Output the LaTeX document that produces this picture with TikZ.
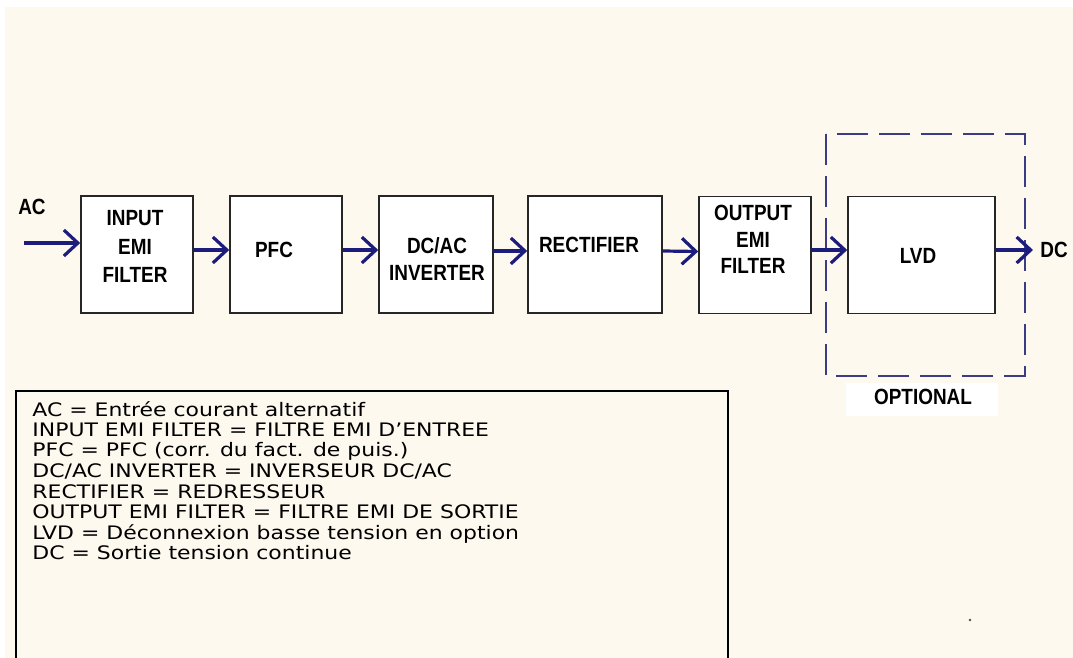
\documentclass[tikz,border=0pt]{standalone}
\usepackage{fontspec}
\setmainfont{Liberation Sans}
\newfontfamily\boxfont[FakeStretch=0.86]{Liberation Sans}
\newfontfamily\legfont[FakeStretch=1.18]{DejaVu Sans}
\usetikzlibrary{arrows.meta}
\definecolor{cream}{HTML}{FDF9EF}
\definecolor{navy}{HTML}{1C1C7C}
\definecolor{dashblue}{HTML}{3C3C84}
\tikzset{
  blk/.style={draw=black!85, line width=0.8pt, fill=white, inner sep=0pt,
    minimum height=58.5pt},
  lbl/.style={inner sep=0pt, align=center, font=\boxfont\bfseries\fontsize{11pt}{14.25pt}\selectfont},
  flow/.style={navy, line width=1.6pt, -{Straight Barb[length=7pt, width=13pt, line width=1.6pt]}},
  optbox/.style={dashblue, line width=1pt, dash pattern=on 15.5pt off 5.5pt},
  legtxt/.style={inner sep=0pt, anchor=base west, font=\legfont\fontsize{9.3pt}{10pt}\selectfont}
}
\begin{document}
\begin{tikzpicture}[x=0.5pt, y=-0.5pt]
  % fond
  \useasboundingbox (0,0) rectangle (1073,658);
  \fill[white] (0,0) rectangle (1073,658);
  \fill[cream] (5,7) rectangle (1073,658);
  % blocs
  \node[blk, minimum width=56pt] (inemi) at (137,254.5) {};
  \node[blk, minimum width=56pt] (pfc) at (286,254.5) {};
  \node[blk, minimum width=57pt] (inv) at (436,254.5) {};
  \node[blk, minimum width=67pt] (rect) at (595,254.5) {};
  \node[blk, minimum width=56pt] (outemi) at (755,255) {};
  \node[blk, minimum width=73.5pt] (lvd) at (921.5,255) {};
  % textes des blocs
  \node[lbl] (inemitxt) at (135,246.5) {INPUT\\EMI\\FILTER};
  \node[lbl] (pfctxt) at (274,250) {PFC};
  \node[lbl, font=\boxfont\bfseries\fontsize{11pt}{13.5pt}\selectfont] (invtxt) at (437,259.5) {DC/AC\\INVERTER};
  \node[lbl] (recttxt) at (589,245) {RECTIFIER};
  \node[lbl, font=\boxfont\bfseries\fontsize{11pt}{13.25pt}\selectfont] (outemitxt) at (753,239.5) {OUTPUT\\EMI\\FILTER};
  \node[lbl] (lvdtxt) at (918,256) {LVD};
  % zone en option
  \draw[optbox] (826,134) rectangle (1025,376);
  \fill[white] (846,383) rectangle (998,416);
  \node[lbl] (opt) at (923,397) {OPTIONAL};
  % entree / sortie
  \node[lbl] (ac) at (32,207) {AC};
  \node[lbl] (dc) at (1054,250) {DC};
  \coordinate (acin) at (24,243);
  \coordinate (dcout) at (1033,250);
  % fleches
  \draw[flow] (acin) -- (acin -| inemi.west);
  \draw[flow] ([yshift=2.25pt]inemi.east) -- ([yshift=2.25pt]pfc.west);
  \draw[flow] ([yshift=2.25pt]pfc.east) -- ([yshift=2.25pt]inv.west);
  \draw[flow] ([yshift=1.75pt]inv.east) -- ([yshift=1.75pt]rect.west);
  \draw[flow] ([yshift=1.75pt]rect.east) -- ([yshift=1.75pt]outemi.west);
  \draw[flow] ([yshift=2.5pt]outemi.east) -- ([yshift=2.5pt]lvd.west);
  \draw[flow] ([yshift=2.5pt]lvd.east) -- (dcout);
  % legende
  \draw[line width=1pt] (16,391) rectangle (728,662);
  \foreach \txt [count=\i] in {AC = Entrée courant alternatif,
      INPUT EMI FILTER = FILTRE EMI D’ENTREE,
      PFC = PFC (corr. du fact. de puis.),
      DC/AC INVERTER = INVERSEUR DC/AC,
      RECTIFIER = REDRESSEUR,
      OUTPUT EMI FILTER = FILTRE EMI DE SORTIE,
      LVD = Déconnexion basse tension en option,
      DC = Sortie tension continue}
    \node[legtxt] (leg\i) at (32,{416+20.5*(\i-1)}) {\txt};
  % point isole
  \fill[black!70] (970,620) circle (0.7pt);
\end{tikzpicture}
\end{document}
